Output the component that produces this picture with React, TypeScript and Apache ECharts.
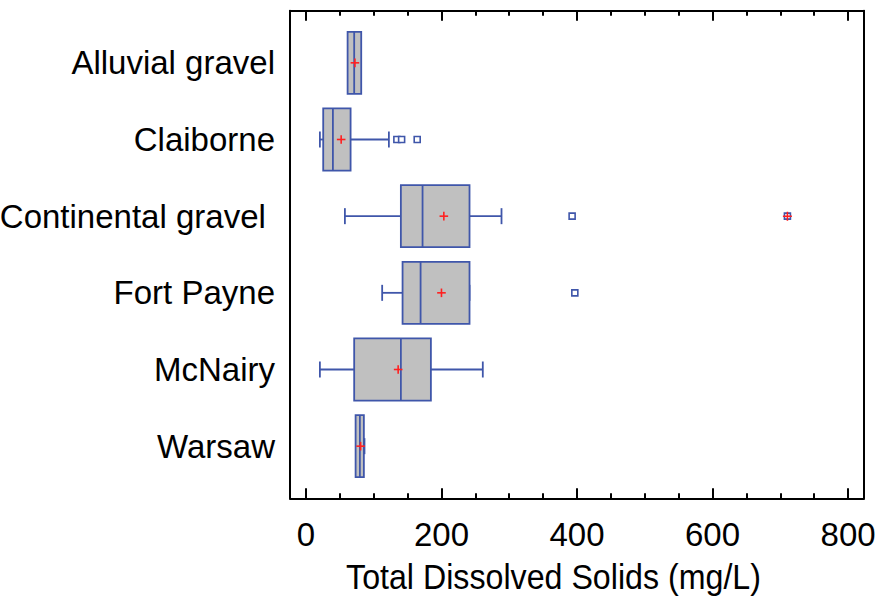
import React, { useEffect, useRef } from 'react';
import * as echarts from 'echarts';

const categories = ['Alluvial gravel', 'Claiborne', 'Continental gravel ', 'Fort Payne', 'McNairy', 'Warsaw'];
const whiskerLow = [62, 20.6, 57.5, 112.5, 20.6, 74.2];
const quartile1 = [61.5, 25.5, 140.1, 142.6, 71.2, 73.3];
const medians = [71.2, 39.8, 172.1, 169.2, 140.1, 79.6];
const quartile3 = [81.6, 65.9, 241.4, 241.4, 184.4, 85.5];
const whiskerHigh = [81, 122.4, 288.6, 241.4, 261, 86.4];
const means = [72.3, 52, 203.5, 200, 136.1, 80.7];
const outlierRows = [2, 2, 2, 3, 3, 4];
const outlierValues = [134.2, 141.2, 164.2, 392.8, 710.5, 396.8];
const farOutlierRows = [3];
const farOutlierValues = [710.5];
const majorTicks = [0, 200, 400, 600, 800];
const minorTicks = [50, 100, 150, 250, 300, 350, 450, 500, 550, 650, 700, 750];
const rowPositions = [1, 2, 3, 4, 5, 6];

const BLUE = '#3f56aa';
const RED = '#ff2020';
const FONT = '"Liberation Sans", Arial, sans-serif';

export default function App() {
  const ref = useRef<HTMLDivElement>(null);
  useEffect(() => {
    if (!ref.current) return;
    const chart = echarts.init(ref.current, null, { renderer: 'svg' });
    const boxData = categories.map((_, i) => [
      rowPositions[i], whiskerLow[i], quartile1[i], medians[i], quartile3[i], whiskerHigh[i], means[i],
    ]);
    const xMin = -23.5;
    const xMax = 823.5;
    const yMin = 0.32;
    const yMax = 6.68;
    const frameLine = { show: true, onZero: false, lineStyle: { color: '#000', width: 2 } };
    const baseX = {
      type: 'value', min: xMin, max: xMax, splitLine: { show: false },
    };
    const option: any = {
      animation: false,
      grid: { left: 290, top: 10.7, width: 574, height: 487.6, containLabel: false, outerBoundsMode: 'none' },
      xAxis: [
        {
          ...baseX, position: 'bottom',
          axisLine: frameLine,
          axisTick: { show: true, inside: true, length: 10, customValues: majorTicks, lineStyle: { color: '#000', width: 2 } },
          axisLabel: { show: true, customValues: majorTicks, fontSize: 33, fontFamily: FONT, color: '#000', margin: 20 },
        },
        {
          ...baseX, position: 'bottom',
          axisLine: { show: false, onZero: false },
          axisTick: { show: true, inside: true, length: 5, customValues: minorTicks, lineStyle: { color: '#000', width: 2 } },
          axisLabel: { show: false },
        },
        {
          ...baseX, position: 'top',
          axisLine: frameLine,
          axisTick: { show: true, inside: true, length: 10, customValues: majorTicks, lineStyle: { color: '#000', width: 2 } },
          axisLabel: { show: false },
        },
        {
          ...baseX, position: 'top',
          axisLine: { show: false, onZero: false },
          axisTick: { show: true, inside: true, length: 5, customValues: minorTicks, lineStyle: { color: '#000', width: 2 } },
          axisLabel: { show: false },
        },
      ],
      yAxis: [
        {
          type: 'value', min: yMin, max: yMax, inverse: true, position: 'left',
          splitLine: { show: false },
          axisLine: frameLine,
          axisTick: { show: false },
          axisLabel: {
            show: true, customValues: rowPositions, fontSize: 33, fontFamily: FONT, color: '#000', margin: 15,
            padding: [4, 0, 0, 0],
            formatter: (v: number) => categories[Math.round(v) - 1] ?? '',
          },
        },
        {
          type: 'value', min: yMin, max: yMax, inverse: true, position: 'right',
          splitLine: { show: false },
          axisLine: frameLine,
          axisTick: { show: false },
          axisLabel: { show: false },
        },
      ],
      graphic: [
        {
          type: 'text', x: 553.5, y: 560, scaleX: 0.92,
          style: { text: 'Total Dissolved Solids (mg/L)', fontSize: 35, fontFamily: FONT, fill: '#000', align: 'center', verticalAlign: 'top' },
        },
      ],
      series: [
        {
          type: 'custom',
          xAxisIndex: 0, yAxisIndex: 0,
          data: boxData,
          encode: { x: [1, 2, 3, 4, 5, 6], y: 0 },
          renderItem: (params: any, api: any) => {
            const y = api.value(0);
            const xs = [1, 2, 3, 4, 5, 6].map((d) => api.coord([api.value(d), y])[0]);
            const yc = api.coord([0, y])[1];
            const unit = api.size([0, 1])[1];
            const h = unit * 0.405;
            const cap = 8;
            const p = 4.3;
            const [xLo, xA, xM, xB, xHi, xMean] = xs;
            const ls = { stroke: BLUE, lineWidth: 1.8 };
            return {
              type: 'group',
              children: [
                { type: 'line', shape: { x1: xLo, y1: yc, x2: xA, y2: yc }, style: ls },
                { type: 'line', shape: { x1: xB, y1: yc, x2: xHi, y2: yc }, style: ls },
                { type: 'line', shape: { x1: xLo, y1: yc - cap, x2: xLo, y2: yc + cap }, style: ls },
                { type: 'line', shape: { x1: xHi, y1: yc - cap, x2: xHi, y2: yc + cap }, style: ls },
                { type: 'rect', shape: { x: xA, y: yc - h, width: xB - xA, height: 2 * h }, style: { fill: '#c0c0c0', stroke: BLUE, lineWidth: 1.8 } },
                { type: 'line', shape: { x1: xM, y1: yc - h, x2: xM, y2: yc + h }, style: ls },
                { type: 'line', shape: { x1: xMean - p, y1: yc, x2: xMean + p, y2: yc }, style: { stroke: RED, lineWidth: 1.6 } },
                { type: 'line', shape: { x1: xMean, y1: yc - p, x2: xMean, y2: yc + p }, style: { stroke: RED, lineWidth: 1.6 } },
              ],
            };
          },
          z: 2,
        },
        {
          type: 'scatter',
          xAxisIndex: 0, yAxisIndex: 0,
          data: outlierValues.map((v, i) => [v, outlierRows[i]]),
          symbol: 'rect', symbolSize: 6,
          itemStyle: { color: '#fff', borderColor: BLUE, borderWidth: 1.6, opacity: 1 },
          z: 3,
        },
        {
          type: 'scatter',
          xAxisIndex: 0, yAxisIndex: 0,
          data: farOutlierValues.map((v, i) => [v, farOutlierRows[i]]),
          symbol: 'path://M0,3.3H8V4.7H0Z M3.3,0H4.7V8H3.3Z', symbolSize: 9,
          itemStyle: { color: RED, opacity: 1 },
          z: 4,
        },
      ],
    };
    chart.setOption(option);
    return () => chart.dispose();
  }, []);
  return <div ref={ref} style={{ position: 'absolute', left: 0, top: 0, width: 885, height: 598 }} />;
}
